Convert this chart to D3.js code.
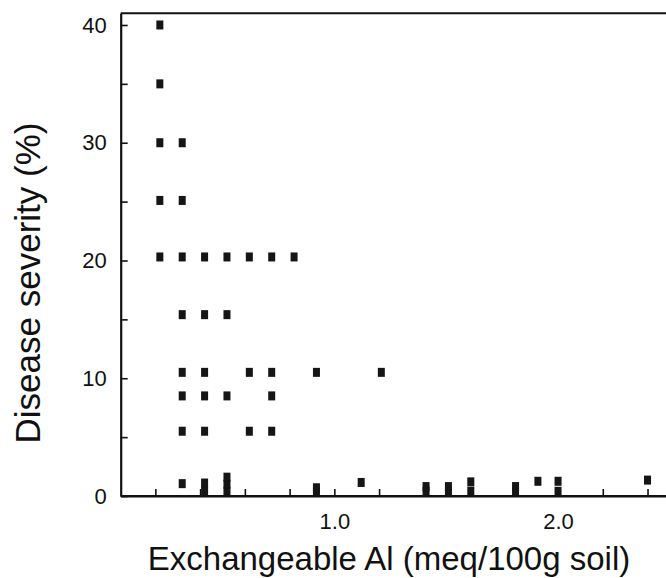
<!DOCTYPE html>
<html>
<head>
<meta charset="utf-8">
<script src="https://cdn.jsdelivr.net/npm/d3@7"></script>
<style>
  html, body { margin: 0; padding: 0; background: #fff; }
  svg { display: block; font-family: "Liberation Sans", Arial, sans-serif; }
</style>
</head>
<body>
<div id="chart"></div>
<script>
// Exchangeable Al (meq/100g soil) and disease severity (%) for each plot
const exchAl = [
  0.22,
  0.22,
  0.22, 0.32,
  0.22, 0.32,
  0.22, 0.32, 0.42, 0.52, 0.62, 0.72, 0.82,
  0.32, 0.42, 0.52,
  0.32, 0.42, 0.62, 0.72, 0.92, 1.21,
  0.32, 0.42, 0.52, 0.72,
  0.32, 0.42, 0.62, 0.72,
  0.32, 0.42, 0.42, 0.52, 0.52, 0.52, 0.92, 0.92, 1.12,
  1.41, 1.41, 1.51, 1.51, 1.61, 1.61, 1.81, 1.81, 1.91,
  2.0, 2.0, 2.4
];
const severity = [
  40,
  35,
  30, 30,
  25.1, 25.1,
  20.3, 20.3, 20.3, 20.3, 20.3, 20.3, 20.3,
  15.4, 15.4, 15.4,
  10.5, 10.5, 10.5, 10.5, 10.5, 10.5,
  8.5, 8.5, 8.5, 8.5,
  5.5, 5.5, 5.5, 5.5,
  1.05, 0.4, 1.1, 0.4, 1.0, 1.6, 0.4, 0.7, 1.15,
  0.4, 0.8, 0.4, 0.8, 0.4, 1.2, 0.4, 0.8, 1.25,
  0.4, 1.25, 1.35
];
const xTicks = [0.2, 0.4, 0.6, 0.8, 1.0, 1.2, 1.4, 1.6, 1.8, 2.0, 2.2, 2.4];
const xTickLabels = [1.0, 2.0];
const yTicks = [0, 5, 10, 15, 20, 25, 30, 35, 40];
const yTickLabels = [0, 10, 20, 30, 40];

const width = 666;
const height = 578;
const plotLeft = 120.7, plotRight = 669.9, plotTop = 13.2, plotBottom = 496;

const svg = d3.select("#chart")
  .append("svg")
  .attr("width", width)
  .attr("height", height);

const x = d3.scaleLinear().domain([0.045, 2.5]).range([plotLeft, plotRight]);
const y = d3.scaleLinear().domain([0, 41]).range([plotBottom, plotTop]);

// frame (top edge)
svg.append("line")
  .attr("x1", plotLeft).attr("x2", plotRight)
  .attr("y1", plotTop).attr("y2", plotTop)
  .attr("stroke", "#111").attr("stroke-width", 2);

const xAxis = svg.append("g")
  .attr("transform", `translate(0,${plotBottom})`)
  .call(d3.axisBottom(x)
    .tickValues(xTicks)
    .tickSizeInner(-7)
    .tickSizeOuter(0)
    .tickPadding(17)
    .tickFormat((d) => xTickLabels.includes(d) ? d3.format(".1f")(d) : ""));

const yAxis = svg.append("g")
  .attr("transform", `translate(${plotLeft},0)`)
  .call(d3.axisLeft(y)
    .tickValues(yTicks)
    .tickSizeInner(-7)
    .tickSizeOuter(0)
    .tickPadding(14)
    .tickFormat((d) => yTickLabels.includes(d) ? d : ""));

[xAxis, yAxis].forEach((g) => {
  g.select(".domain").attr("stroke", "#111").attr("stroke-width", 2.2);
  g.selectAll(".tick line").attr("stroke", "#111").attr("stroke-width", 1.6);
  g.selectAll(".tick text")
    .attr("fill", "#111")
    .style("font-size", "22px")
    .style("font-family", "'Liberation Sans', Arial, sans-serif");
});

// markers: small dark squares
const mw = 7, mh = 9;
svg.append("g")
  .selectAll("rect")
  .data(exchAl.map((v, i) => ({ al: v, sev: severity[i] })))
  .enter()
  .append("rect")
  .attr("x", (d) => x(d.al) - mw / 2)
  .attr("y", (d) => y(d.sev) - mh / 2)
  .attr("width", mw)
  .attr("height", mh)
  .attr("fill", "#151515");

// redraw axis line on top so markers sit on it
svg.append("line")
  .attr("x1", plotLeft).attr("x2", plotRight)
  .attr("y1", plotBottom).attr("y2", plotBottom)
  .attr("stroke", "#111").attr("stroke-width", 2.2);

svg.append("text")
  .attr("x", 389)
  .attr("y", 570)
  .attr("text-anchor", "middle")
  .style("font-size", "33px")
  .attr("fill", "#111")
  .text("Exchangeable Al (meq/100g soil)");

svg.append("text")
  .attr("transform", "translate(40,283) rotate(-90)")
  .attr("text-anchor", "middle")
  .style("font-size", "35px")
  .attr("fill", "#111")
  .text("Disease severity (%)");
</script>
</body>
</html>
